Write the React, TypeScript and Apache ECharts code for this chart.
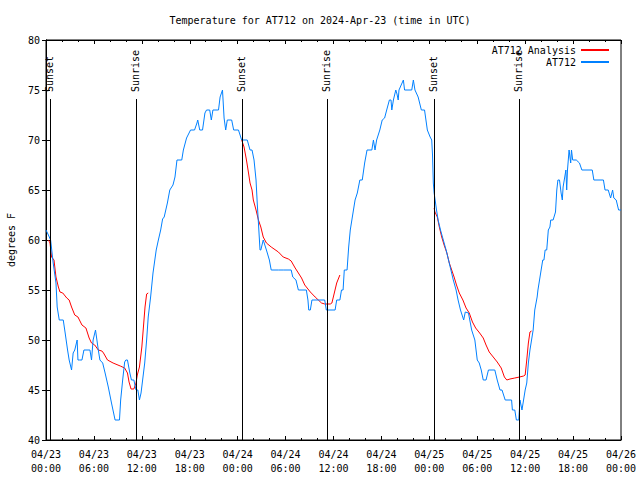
import React, { useEffect, useRef } from "react";
import * as echarts from "echarts";

const FONT = "DejaVu Sans Mono";
const TITLE = "Temperature for AT712 on 2024-Apr-23 (time in UTC)";
const SERIES_NAMES = ["AT712 Analysis", "AT712"];
const X_TICK_DAYS = ["04/23", "04/24", "04/25", "04/26"];

// hours since 2024-04-23 00:00 UTC, degrees F
const at712: [number, number][] = [
  [0.0, 61], [0.08, 61], [0.3, 60.5], [0.58, 60], [0.9, 57.7], [1.25, 55.7], [1.4, 53.3], [1.66, 52], [2.16, 52],
  [2.4, 50.7], [2.7, 49], [2.9, 48], [3.2, 47], [3.4, 48.7], [3.6, 49], [3.9, 50], [4.0, 48], [4.2, 48], [4.5, 48],
  [4.75, 49], [5.5, 49], [5.7, 48], [5.9, 50], [6.2, 51], [6.55, 49], [6.75, 48], [7.1, 47.7], [7.4, 46.7], [7.8, 45.3],
  [8.2, 43.7], [8.65, 42], [9.2, 42], [9.35, 44], [9.6, 46], [9.85, 47.8], [10.0, 48], [10.2, 48], [10.5, 46.7],
  [10.7, 46], [11.0, 46], [11.27, 45], [11.5, 45], [11.7, 44], [11.9, 44.7], [12.1, 46], [12.36, 47.7], [12.6, 50],
  [12.8, 52.3], [13.1, 54.3], [13.4, 56.7], [13.8, 59], [14.07, 60], [14.36, 61], [14.6, 62.1], [14.8, 62.3],
  [15.2, 63.7], [15.5, 65], [15.9, 65.5], [16.15, 66.3], [16.4, 68], [17.0, 68], [17.2, 69], [17.6, 70.2], [18.1, 71],
  [18.6, 71], [18.9, 71.7], [19.0, 72], [19.25, 71], [19.6, 71], [19.9, 72.7], [20.1, 73], [20.5, 73], [20.7, 72],
  [20.9, 73], [21.6, 73], [21.8, 74.3], [22.1, 75], [22.3, 72.2], [22.5, 71], [22.7, 72], [23.25, 72], [23.5, 71],
  [24.1, 71], [24.5, 70], [25.2, 70], [25.55, 69], [25.8, 69], [26.05, 68], [26.3, 66], [26.45, 63.7], [26.6, 61.7],
  [26.8, 59], [26.9, 59], [27.2, 60], [27.6, 59], [27.97, 58], [28.2, 57], [29.1, 57], [29.7, 57], [30.7, 57],
  [30.9, 56.3], [31.3, 56], [31.6, 55], [32.6, 55], [32.8, 54], [32.9, 53], [33.1, 53], [33.3, 54], [34.3, 54],
  [34.9, 54], [35.1, 53], [36.2, 53], [36.4, 54], [36.8, 54], [37.0, 55], [37.2, 55], [37.35, 57], [37.7, 57],
  [37.9, 59.3], [38.1, 61], [38.3, 62], [38.5, 63], [38.7, 64], [38.98, 64.7], [39.3, 66], [39.6, 66], [39.9, 67.7],
  [40.2, 69], [40.8, 69], [41.0, 70], [41.2, 69], [41.4, 70], [41.8, 71], [42.1, 72], [42.4, 72.2], [42.66, 73],
  [43.0, 74], [43.2, 74], [43.3, 73], [43.5, 74], [43.8, 75], [43.95, 74.6], [44.1, 74], [44.2, 75], [44.75, 76],
  [44.9, 75], [45.8, 75], [46.0, 76], [46.2, 75], [46.6, 74.3], [47.0, 73], [47.4, 73], [47.75, 71], [48.1, 70.3],
  [48.3, 70], [48.4, 68.5], [48.5, 65.7], [48.6, 64.7], [48.9, 63], [49.1, 62], [49.4, 61], [49.75, 60], [50.1, 59],
  [50.4, 58], [50.7, 57], [51.0, 56], [51.35, 55], [51.6, 54], [51.9, 53], [52.3, 52], [52.5, 52.8], [52.9, 52.7],
  [53.3, 51], [53.7, 50], [54.0, 48], [54.25, 47.7], [54.5, 47], [54.75, 46], [55.1, 46], [55.4, 47], [56.2, 47],
  [56.5, 46], [56.85, 45], [57.1, 45], [57.5, 44], [58.3, 44], [58.4, 43], [58.7, 43], [58.9, 42], [59.2, 42],
  [59.35, 44], [59.6, 43], [59.8, 44], [60.0, 45], [60.2, 45.7], [60.4, 47.7], [60.6, 49], [60.8, 50], [61.0, 51],
  [61.2, 53], [61.5, 54.3], [61.6, 55], [62.0, 57], [62.2, 58], [62.35, 58], [62.5, 59], [62.7, 59], [62.9, 61],
  [63.1, 61.3], [63.2, 62], [63.5, 62], [63.8, 62.8], [63.96, 65], [64.1, 66], [64.3, 66], [64.5, 64.7], [64.65, 64],
  [64.75, 65.3], [65.1, 67], [65.2, 65], [65.3, 67], [65.5, 69], [65.7, 67.7], [65.8, 69], [65.95, 68], [66.1, 68],
  [66.4, 68], [66.8, 67.7], [67.1, 67], [68.4, 67], [68.6, 66], [69.8, 66], [70.0, 65], [70.4, 65], [70.7, 64.2],
  [70.95, 65], [71.1, 64.2], [71.4, 64], [71.7, 63], [72.0, 63],
];

const analysis1: [number, number][] = [
  [0.3, 60], [0.5, 59.7], [0.7, 58.3], [1.0, 58], [1.25, 56.3], [1.55, 55.3], [1.75, 54.8], [2.1, 54.7], [2.6, 54.2],
  [2.9, 54], [3.2, 53.3], [3.6, 52.5], [4.0, 52.3], [4.5, 51.5], [5.0, 51.2], [5.4, 50.2], [5.7, 49.7], [6.1, 49.5],
  [6.55, 49], [7.0, 48.9], [7.2, 48.7], [7.7, 48], [8.4, 47.7], [9.3, 47.4], [9.85, 47.2], [10.2, 46.7], [10.4, 45.8],
  [10.65, 45.1], [11.0, 45.1], [11.27, 45.7], [11.43, 46.5], [11.7, 47.3], [12.0, 49.3], [12.2, 51.3], [12.4, 53.3],
  [12.6, 54.6], [12.8, 54.7],
];
const analysis2: [number, number][] = [
  [24.5, 70], [24.8, 69.3], [25.1, 68], [25.3, 67], [25.55, 65.7], [25.8, 65], [25.96, 64], [26.3, 63], [26.6, 62],
  [26.9, 61.3], [27.2, 60.3], [27.6, 59.7], [28.2, 59.3], [29.1, 58.8], [29.7, 58.3], [30.35, 58.1], [30.7, 57.9],
  [31.2, 57.2], [31.6, 56.7], [32.0, 56.2], [32.4, 55.5], [33.1, 54.8], [33.7, 54.3], [34.1, 54], [34.5, 53.7],
  [34.9, 53.6], [35.6, 53.6], [35.8, 53.7], [36.1, 54.7], [36.4, 55.7], [36.8, 56.5],
];
const analysis3: [number, number][] = [
  [48.6, 63.2], [48.7, 62.8], [49.0, 62.3], [49.25, 61.3], [49.55, 60.3], [49.85, 59.5], [50.2, 58.7], [50.5, 57.7],
  [50.8, 57], [51.1, 56.3], [51.4, 55.5], [51.75, 54.7], [52.2, 54], [52.6, 53.2], [53.0, 52.7], [53.4, 51.8],
  [53.8, 51.2], [54.3, 50.7], [54.75, 50.2], [55.1, 49.5], [55.5, 48.8], [56.0, 48.3], [56.5, 47.8], [57.0, 47.2],
  [57.4, 46.3], [57.7, 46], [58.1, 46.1], [58.7, 46.2], [59.3, 46.3], [59.8, 46.4], [60.0, 46.5], [60.2, 48],
  [60.4, 49.7], [60.6, 50.8], [60.8, 50.9],
];

const sunsets = [0.58, 24.58, 48.63];
const sunrises = [11.3, 35.23, 59.27];
const SUN_LINE_TOP = 74.1;

export default function App() {
  const ref = useRef<HTMLDivElement>(null);
  useEffect(() => {
    if (!ref.current) return;
    document.body.style.margin = "0";
    const chart = echarts.init(ref.current, undefined, { renderer: "svg" });

    const analysisData: any[] = [...analysis1, null, ...analysis2, null, ...analysis3];

    const events = [
      ...sunsets.map((t) => ({ t, name: "Sunset" })),
      ...sunrises.map((t) => ({ t, name: "Sunrise" })),
    ];
    const markData: any[] = [];
    events.forEach((e) => {
      markData.push([
        { coord: [e.t, 40], lineStyle: { color: "#000", width: 1, type: "solid" }, label: { show: false } },
        { coord: [e.t, SUN_LINE_TOP] },
      ]);
      markData.push([
        {
          coord: [e.t, SUN_LINE_TOP],
          lineStyle: { color: "rgba(0,0,0,0)", width: 1 },
          label: {
            show: true,
            position: "insideStartTop",
            formatter: e.name,
            distance: [7, -4],
            fontFamily: FONT,
            fontSize: 10,
            color: "#000",
          },
        },
        { coord: [e.t, 80] },
      ]);
    });

    const tickLabel = (v: number) => {
      const d = Math.floor(v / 24);
      const h = Math.round(v - d * 24);
      return `${X_TICK_DAYS[d]}\n${String(h).padStart(2, "0")}:00`;
    };

    const baseX = {
      type: "value",
      min: 0,
      max: 72,
      interval: 6,
      axisLine: { show: true, lineStyle: { color: "#000", width: 1 } },
      axisTick: { show: true, inside: true, length: 4, lineStyle: { color: "#000" } },
      minorTick: { show: true, splitNumber: 3, length: 2, lineStyle: { color: "#000" } },
      splitLine: { show: false },
      minorSplitLine: { show: false },
    };
    const baseY = {
      type: "value",
      min: 40,
      max: 80,
      interval: 5,
      axisLine: { show: true, lineStyle: { color: "#000", width: 1 } },
      axisTick: { show: true, inside: true, length: 4, lineStyle: { color: "#000" } },
      splitLine: { show: false },
    };

    chart.setOption({
      animation: false,
      backgroundColor: "#fff",
      title: {
        text: TITLE,
        left: "center",
        top: 10,
        textStyle: { fontFamily: FONT, fontSize: 10, fontWeight: "normal", color: "#000" },
      },
      legend: {
        data: SERIES_NAMES,
        orient: "vertical",
        right: 25,
        top: 40,
        align: "right",
        itemWidth: 28,
        itemHeight: 10,
        itemGap: 2,
        itemStyle: { opacity: 0 },
        textStyle: { fontFamily: FONT, fontSize: 10, color: "#000", padding: [0, 0, 0, 3] },
      },
      grid: {
        left: 46,
        right: 19,
        top: 40,
        bottom: 40,
        show: true,
        borderColor: "#000",
        borderWidth: 1,
        containLabel: false,
        outerBoundsMode: "none",
      },
      xAxis: [
        {
          ...baseX,
          position: "bottom",
          axisLabel: {
            formatter: tickLabel,
            fontFamily: FONT,
            fontSize: 10,
            color: "#000",
            lineHeight: 14,
            margin: 7,
            showMinLabel: true,
            showMaxLabel: true,
          },
        },
        { ...baseX, position: "top", axisLabel: { show: false } },
      ],
      yAxis: [
        {
          ...baseY,
          position: "left",
          name: "degrees F",
          nameLocation: "middle",
          nameGap: 30,
          nameRotate: 90,
          nameTextStyle: { fontFamily: FONT, fontSize: 10, color: "#000" },
          axisLabel: { fontFamily: FONT, fontSize: 10, color: "#000", margin: 6 },
        },
        { ...baseY, position: "right", axisLabel: { show: false } },
      ],
      series: [
        {
          name: SERIES_NAMES[0],
          type: "line",
          data: analysisData,
          connectNulls: false,
          symbol: "none",
          lineStyle: { color: "#ff0000", width: 1 },
          itemStyle: { color: "#ff0000" },
          z: 2,
        },
        {
          name: SERIES_NAMES[1],
          type: "line",
          data: at712,
          symbol: "none",
          lineStyle: { color: "#0080ff", width: 1 },
          itemStyle: { color: "#0080ff" },
          z: 3,
          markLine: {
            silent: true,
            symbol: ["none", "none"],
            animation: false,
            data: markData,
          },
        },
      ],
    });
    return () => chart.dispose();
  }, []);
  return <div ref={ref} style={{ width: 640, height: 480 }} />;
}
